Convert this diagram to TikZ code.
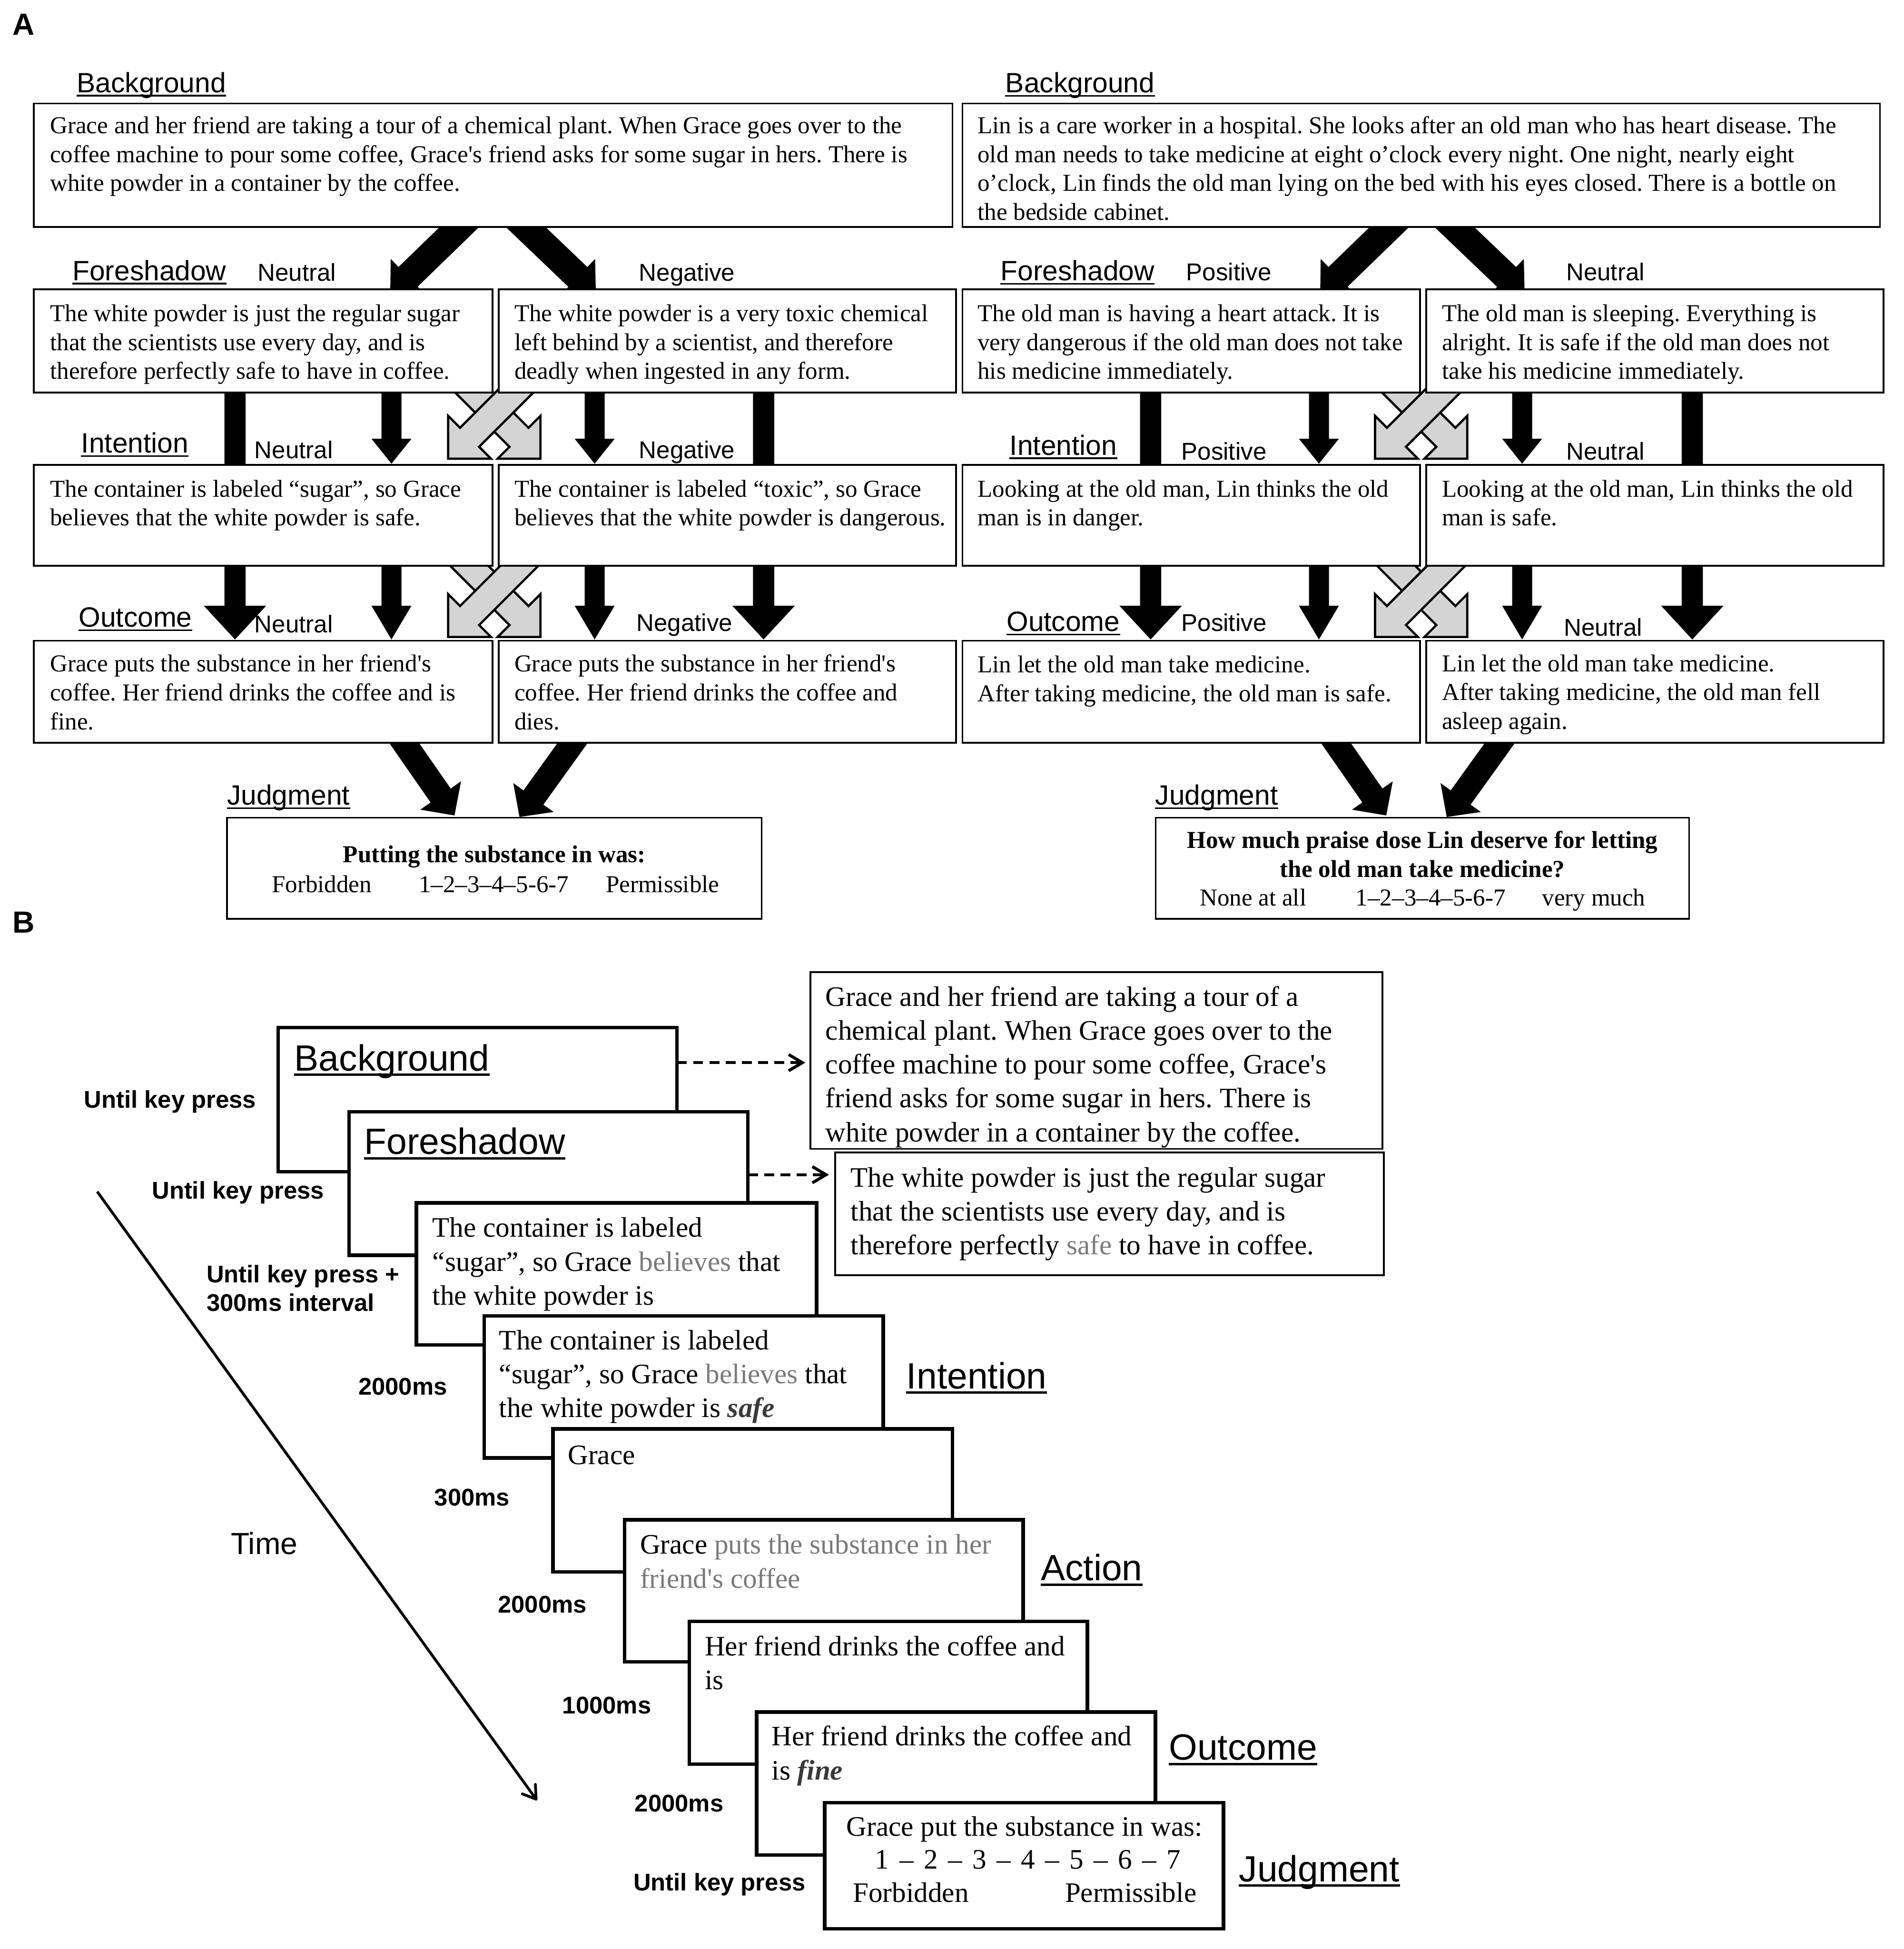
\documentclass[tikz,border=0pt]{standalone}
\usepackage{fontspec}
\setmainfont{Liberation Serif}
\setsansfont{Liberation Sans}
\usetikzlibrary{calc,arrows.meta}
\setlength{\parindent}{0pt}
\frenchspacing
\newcommand\fntA{\fontsize{19.5}{23.1}\selectfont}
\newcommand\fntB{\fontsize{22.6}{27.2}\selectfont}
\newcommand\sq{\textquotesingle}
\newcommand\normsp{\spaceskip=\fontdimen2\font\relax\xspaceskip=\fontdimen2\font\relax}
\definecolor{greyfill}{HTML}{D4D4D4}
\definecolor{wordgrey}{HTML}{7A7A7A}
\definecolor{darkword}{HTML}{3A3A3A}
% block arrow: style, start, tip, shaft half width, head half width, head length
\newcommand\barr[6]{%
  \coordinate (bat) at (#3);
  \coordinate (bas) at (#2);
  \coordinate (bab) at ($(bat)!#6pt!(bas)$);
  \path[#1] ($(bas)!#4pt!90:(bat)$) -- ($(bab)!#4pt!90:(bat)$) -- ($(bab)!#5pt!90:(bat)$) -- (bat)
    -- ($(bab)!#5pt!-90:(bat)$) -- ($(bab)!#4pt!-90:(bat)$) -- ($(bas)!#4pt!-90:(bat)$) -- cycle;}
\newcommand\bx[6]{\node[#1, minimum width=#5pt, minimum height=#6pt] (#2) at (#3,#4) {};}
\newcommand\tA[5]{\node[txtA=#4pt] (#1) at (#2,#3-16.17) {\strut\normsp #5};}
\newcommand\tB[5]{\node[txtB=#4pt] (#1) at (#2,#3-19.04) {\strut\normsp #5};}
\newcommand\ulline[3]{\draw[#1] ($(#2.base west)+(0,#3)$) -- ($(#2.base east)+(0,#3)$);}
\newcommand\dg{\hspace{8.2pt}–\hspace{8.2pt}}
\begin{document}
\begin{tikzpicture}[x=1pt,y=-1pt,
  boxA/.style={draw=black, line width=1.4pt, fill=white, inner sep=0pt, outer sep=0pt, anchor=north west},
  slide/.style={draw=black, line width=2.8pt, fill=white, inner sep=0pt, outer sep=0pt, anchor=north west},
  tboxB/.style={draw=black, line width=1.5pt, fill=white, inner sep=0pt, outer sep=0pt, anchor=north west},
  txtA/.style={font=\fntA, inner sep=0pt, anchor=north west, text width=#1, align=left},
  txtA/.default=360pt,
  txtB/.style={font=\fntB, inner sep=0pt, anchor=north west, text width=#1, align=left},
  txtB/.default=440pt,
  lblA/.style={font=\sffamily\fontsize{22.4}{26}\selectfont, inner sep=0pt, anchor=base west},
  catA/.style={font=\sffamily\fontsize{19.5}{23}\selectfont, inner sep=0pt, anchor=base west},
  lblB/.style={font=\sffamily\fontsize{29.3}{34}\selectfont, inner sep=0pt, anchor=base west},
  timeB/.style={font=\sffamily\bfseries\fontsize{19.4}{23}\selectfont, inner sep=0pt, anchor=base west},
  plainA/.style={font=\fntA, inner sep=0pt, anchor=base west},
  plainB/.style={font=\fntB, inner sep=0pt, anchor=base west},
  panel/.style={font=\sffamily\bfseries\fontsize{24.5}{28}\selectfont, inner sep=0pt, anchor=base west},
  ulA/.style={line width=1.3pt},
  ulB/.style={line width=1.9pt},
  blk/.style={fill=black},
  gry/.style={fill=greyfill, draw=black, line width=1.8pt, line join=miter},
  dasharr/.style={line width=2.4pt, dash pattern=on 8pt off 5pt, -{Straight Barb[length=11pt,width=13pt]}},
  timearr/.style={line width=2.2pt, -{Straight Barb[length=10pt,width=13pt,round]}},
]
\useasboundingbox (0,0) rectangle (1527,1563.6);

\node[panel] (pA) at (10,28) {A};
\node[panel] (pB) at (10,748.5) {B};

% ================= PANEL A : arrows (behind boxes) =================
% left half
\barr{blk}{380,171}{313,236}{11}{20}{20}
\barr{blk}{410,171}{478,236}{11}{20}{20}
\barr{blk}{188.5,300}{188.5,513}{8.5}{25}{27}
\barr{blk}{612.5,300}{612.5,513}{8.5}{25}{27}
\barr{blk}{314,300}{314,372}{8}{16}{20}
\barr{blk}{477,300}{477,372}{8}{16}{20}
\barr{blk}{314,440}{314,513}{8}{16}{27}
\barr{blk}{477,440}{477,513}{8}{16}{27}
\barr{gry}{363.5,298}{433.5,368}{10.8}{24.3}{24.3}
\barr{gry}{429.5,298}{359.5,368}{10.8}{24.3}{24.3}
\barr{gry}{358.5,436}{433.5,511}{10.8}{24.3}{24.3}
\barr{gry}{434.5,436}{359.5,511}{10.8}{24.3}{24.3}
\barr{blk}{315.1,583}{364.6,654.2}{9.8}{19.9}{19.5}
\barr{blk}{468.7,583}{416.7,655.4}{9.8}{19.9}{19.2}
% right half
\barr{blk}{1126,171}{1059,236}{11}{20}{20}
\barr{blk}{1155,171}{1223,236}{11}{20}{20}
\barr{blk}{923,300}{923,513}{8.5}{25}{27}
\barr{blk}{1357.5,300}{1357.5,513}{8.5}{25}{27}
\barr{blk}{1058,300}{1058,372}{8}{16}{20}
\barr{blk}{1221,300}{1221,372}{8}{16}{20}
\barr{blk}{1058,440}{1058,513}{8}{16}{27}
\barr{blk}{1221,440}{1221,513}{8}{16}{27}
\barr{gry}{1107,298}{1177,368}{10.8}{24.3}{24.3}
\barr{gry}{1173,298}{1103,368}{10.8}{24.3}{24.3}
\barr{gry}{1102,436}{1177,511}{10.8}{24.3}{24.3}
\barr{gry}{1178,436}{1103,511}{10.8}{24.3}{24.3}
\barr{blk}{1062.5,583}{1112,654.2}{9.8}{19.9}{19.5}
\barr{blk}{1212.5,583}{1160.5,655.4}{9.8}{19.9}{19.2}

% ================= PANEL A : boxes =================
\bx{boxA}{bgL}{27}{83}{737}{99}
\bx{boxA}{fsL1}{27}{232}{368}{83}
\bx{boxA}{fsL2}{400}{232}{367}{83}
\bx{boxA}{inL1}{27}{373}{368}{81}
\bx{boxA}{inL2}{400}{373}{367}{81}
\bx{boxA}{ocL1}{27}{514}{368}{82}
\bx{boxA}{ocL2}{400}{514}{367}{82}
\bx{boxA}{jdL}{182}{656}{429}{81}
\bx{boxA}{bgR}{772}{83}{736}{99}
\bx{boxA}{fsR1}{772}{232}{367}{83}
\bx{boxA}{fsR2}{1144}{232}{367}{83}
\bx{boxA}{inR1}{772}{373}{367}{81}
\bx{boxA}{inR2}{1144}{373}{367}{81}
\bx{boxA}{ocR1}{772}{514}{367}{82}
\bx{boxA}{ocR2}{1144}{514}{367}{82}
\bx{boxA}{jdR}{927}{656}{428}{81}

% ================= PANEL A : texts =================
\tA{tbgL}{40}{107}{725}{Grace and her friend are taking a tour of a chemical plant. When Grace goes over to the\\coffee machine to pour some coffee, Grace\sq s friend asks for some sugar in hers. There is\\white powder in a container by the coffee.}
\tA{tfsL1}{40}{257.7}{360}{The white powder is just the regular sugar\\that the scientists use every day, and is\\therefore perfectly safe to have in coffee.}
\tA{tfsL2}{412.5}{257.7}{360}{The white powder is a very toxic chemical\\left behind by a scientist, and therefore\\deadly when ingested in any form.}
\tA{tinL1}{40}{398.5}{360}{The container is labeled “sugar”, so Grace\\believes that the white powder is safe.}
\tA{tinL2}{412.5}{398.5}{360}{The container is labeled “toxic”, so Grace\\believes that the white powder is dangerous.}
\tA{tocL1}{40}{538.8}{360}{Grace puts the substance in her friend\sq s\\coffee. Her friend drinks the coffee and is\\fine.}
\tA{tocL2}{412.5}{538.8}{360}{Grace puts the substance in her friend\sq s\\coffee. Her friend drinks the coffee and\\dies.}
\node[plainA, font=\fntA\bfseries, anchor=base] (tjL1) at (396.5,691.8) {Putting the substance in was:};
\node[plainA] (tjL2) at (217.8,716) {Forbidden};
\node[plainA] (tjL3) at (335.8,716) {1–2–3–4–5-6-7};
\node[plainA] (tjL4) at (485.8,716) {Permissible};

\tA{tbgR}{784}{107}{725}{Lin is a care worker in a hospital. She looks after an old man who has heart disease. The\\old man needs to take medicine at eight o’clock every night. One night, nearly eight\\o’clock, Lin finds the old man lying on the bed with his eyes closed. There is a bottle on\\the bedside cabinet.}
\tA{tfsR1}{784}{257.7}{360}{The old man is having a heart attack. It is\\very dangerous if the old man does not take\\his medicine immediately.}
\tA{tfsR2}{1156.5}{257.7}{360}{The old man is sleeping. Everything is\\alright. It is safe if the old man does not\\take his medicine immediately.}
\tA{tinR1}{784}{398.5}{360}{Looking at the old man, Lin thinks the old\\man is in danger.}
\tA{tinR2}{1156.5}{398.5}{360}{Looking at the old man, Lin thinks the old\\man is safe.}
\tA{tocR1}{784}{539.5}{360}{Lin let the old man take medicine.\\After taking medicine, the old man is safe.}
\tA{tocR2}{1156.5}{538.5}{360}{Lin let the old man take medicine.\\After taking medicine, the old man fell\\asleep again.}
\node[plainA, font=\fntA\bfseries, anchor=base] (tjR1) at (1141,680.6) {How much praise dose Lin deserve for letting};
\node[plainA, font=\fntA\bfseries, anchor=base] (tjR2) at (1141,703.9) {the old man take medicine?};
\node[plainA] (tjR3) at (962.2,726.6) {None at all};
\node[plainA] (tjR4) at (1087.3,726.6) {1–2–3–4–5-6-7};
\node[plainA] (tjR5) at (1236.8,726.6) {very much};

% ================= PANEL A : labels =================
\node[lblA] (lbgL) at (61.5,74.1) {Background}; \ulline{ulA}{lbgL}{2.6}
\node[lblA] (lfsL) at (58,224.9) {Foreshadow}; \ulline{ulA}{lfsL}{2.6}
\node[lblA] (linL) at (65,363.4) {Intention}; \ulline{ulA}{linL}{2.6}
\node[lblA] (locL) at (63,503) {Outcome}; \ulline{ulA}{locL}{2.6}
\node[lblA] (ljdL) at (182,645.8) {Judgment}; \ulline{ulA}{ljdL}{2.6}
\node[catA] (cfsL1) at (206.5,225.6) {Neutral};
\node[catA] (cfsL2) at (512.4,225.6) {Negative};
\node[catA] (cinL1) at (204,367.8) {Neutral};
\node[catA] (cinL2) at (512.4,367.8) {Negative};
\node[catA] (cocL1) at (204,507.5) {Neutral};
\node[catA] (cocL2) at (510.4,506.5) {Negative};

\node[lblA] (lbgR) at (806.4,74.3) {Background}; \ulline{ulA}{lbgR}{2.6}
\node[lblA] (lfsR) at (802.5,225) {Foreshadow}; \ulline{ulA}{lfsR}{2.6}
\node[lblA] (linR) at (809.8,365) {Intention}; \ulline{ulA}{linR}{2.6}
\node[lblA] (locR) at (807.3,506.5) {Outcome}; \ulline{ulA}{locR}{2.6}
\node[lblA] (ljdR) at (926.6,645.8) {Judgment}; \ulline{ulA}{ljdR}{2.6}
\node[catA] (cfsR1) at (951.4,225) {Positive};
\node[catA] (cfsR2) at (1256.2,225) {Neutral};
\node[catA] (cinR1) at (947.5,369) {Positive};
\node[catA] (cinR2) at (1256.2,369) {Neutral};
\node[catA] (cocR1) at (947.5,506.5) {Positive};
\node[catA] (cocR2) at (1254.3,510.2) {Neutral};

% ================= PANEL B =================
\coordinate (tm0) at (78,956);
\coordinate (tm1) at (430.7,1444.3);
\draw[timearr] (tm0) -- (tm1);
\node[font=\sffamily\fontsize{24.5}{28}\selectfont, inner sep=0pt, anchor=base west] (ltime) at (185,1247) {Time};

\bx{slide}{sl1}{223}{824.3}{320}{115.7}
\node[lblB] (ls1) at (236,858.9) {Background}; \ulline{ulB}{ls1}{3.2}
\bx{slide}{sl2}{280}{892}{320}{115}
\node[lblB] (ls2) at (292,926) {Foreshadow}; \ulline{ulB}{ls2}{3.2}
\bx{slide}{sl3}{334}{965}{321}{114}
\tB{ts3}{346.7}{992.3}{310}{The container is labeled\\“sugar”, so Grace \textcolor{wordgrey}{believes} that\\the white powder is}
\bx{slide}{sl4}{388.5}{1055.6}{320}{114}
\tB{ts4}{400.2}{1082.4}{310}{The container is labeled\\“sugar”, so Grace \textcolor{wordgrey}{believes} that\\the white powder is \textcolor{darkword}{\textbf{\textit{safe}}}}
\bx{slide}{sl5}{443.6}{1146.4}{320.4}{114.7}
\tB{ts5}{455.4}{1174.6}{300}{Grace}
\bx{slide}{sl6}{501}{1219.2}{319.7}{114}
\tB{ts6}{513.3}{1246.5}{310}{Grace \textcolor{wordgrey}{puts the substance in her}\\\textcolor{wordgrey}{friend\sq s coffee}}
\bx{slide}{sl7}{553}{1300.7}{319.3}{114.7}
\tB{ts7}{565.2}{1328}{310}{Her friend drinks the coffee and\\is}
\bx{slide}{sl8}{607}{1373.5}{319.8}{114.7}
\tB{ts8}{618.8}{1400.3}{310}{Her friend drinks the coffee and\\is \textcolor{darkword}{\textbf{\textit{fine}}}}
\bx{slide}{sl9}{661.6}{1446.3}{319.8}{101}
\node[plainB] (ts9a) at (678.8,1473.1) {Grace put the substance in was:};
\node[plainB] (ts9b) at (701.8,1499.3) {1\dg 2\dg 3\dg 4\dg 5\dg 6\dg 7};
\node[plainB] (ts9c) at (684,1526.1) {Forbidden};
\node[plainB, anchor=base east] (ts9d) at (960,1526.1) {Permissible};

\bx{tboxB}{tb1}{650}{780}{459}{141.7}
\tB{ttb1}{662}{806.8}{440}{Grace and her friend are taking a tour of a\\chemical plant. When Grace goes over to the\\coffee machine to pour some coffee, Grace\sq s\\friend asks for some sugar in hers. There is\\white powder in a container by the coffee.}
\bx{tboxB}{tb2}{670}{924.6}{440}{98.4}
\tB{ttb2}{682.2}{952}{425}{The white powder is just the regular sugar\\that the scientists use every day, and is\\therefore perfectly \textcolor{wordgrey}{safe} to have in coffee.}

\draw[dasharr, shorten >=4pt] (sl1.east |- 0,852.5) -- (tb1.west |- 0,852.5);
\draw[dasharr, shorten >=5pt] (sl2.east |- 0,942.4) -- (tb2.west |- 0,942.4);

\node[lblB] (lsIn) at (727,1114) {Intention}; \ulline{ulB}{lsIn}{3.2}
\node[lblB] (lsAc) at (834.7,1268) {Action}; \ulline{ulB}{lsAc}{3.2}
\node[lblB] (lsOc) at (937.5,1412) {Outcome}; \ulline{ulB}{lsOc}{3.2}
\node[lblB] (lsJd) at (993.8,1509.5) {Judgment}; \ulline{ulB}{lsJd}{3.2}

\node[timeB] (k1) at (67.2,888.8) {Until key press};
\node[timeB] (k2) at (121.7,961.9) {Until key press};
\node[timeB] (k3) at (165.5,1028.9) {Until key press +};
\node[timeB] (k3b) at (165.5,1052) {300ms interval};
\node[timeB] (k4) at (287.3,1119) {2000ms};
\node[timeB] (k5) at (348.3,1208) {300ms};
\node[timeB] (k6) at (399.2,1294) {2000ms};
\node[timeB] (k7) at (451,1374.7) {1000ms};
\node[timeB] (k8) at (509,1453.3) {2000ms};
\node[timeB] (k9) at (507.9,1516.8) {Until key press};
\end{tikzpicture}
\end{document}
